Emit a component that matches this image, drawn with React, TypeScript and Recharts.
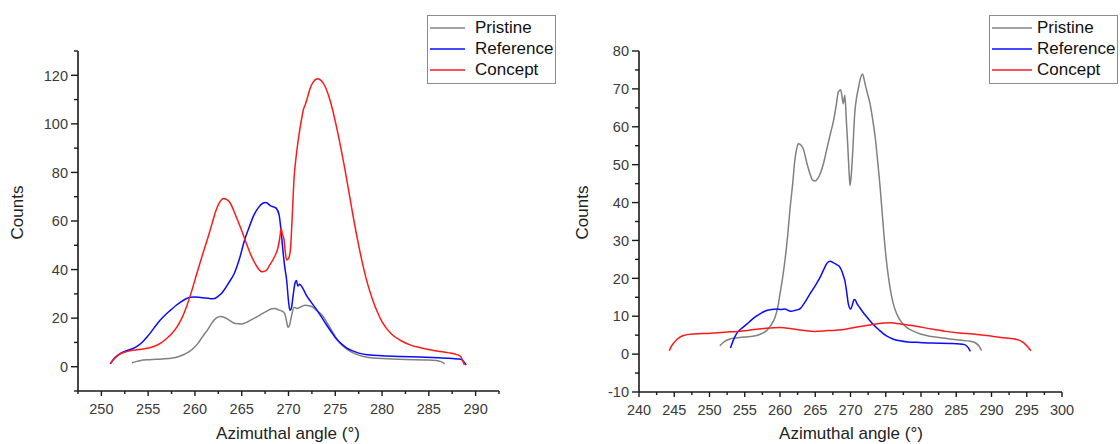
import { LineChart, Line, XAxis, YAxis, Legend } from "recharts";

const FONT = '"Liberation Sans", Arial, Helvetica, sans-serif';

const COLORS = {
  pristine: "#808080",
  reference: "#0a0aff",
  concept: "#ff1a1a",
};

const SERIES_ORDER = ["Pristine", "Reference", "Concept"];

// left panel profiles: [azimuthal angle, counts]
const leftPristine: [number, number][] = [
  [253.27, 1.6], [253.7, 2.1], [254.1, 2.5], [255.2, 2.9], [256.5, 3.2], [257.6, 3.6],
  [258.3, 4.2], [258.7, 4.8], [259.2, 5.8], [259.7, 7.1], [260.3, 9.5], [260.8, 12.3],
  [261.4, 15.5], [261.9, 18.5], [262.3, 20.1], [262.7, 20.7], [263.1, 20.4], [263.7, 19.1],
  [264.3, 17.8], [265.0, 17.6], [265.6, 18.4], [266.1, 19.5], [266.7, 20.7], [267.2, 21.9],
  [267.7, 22.9], [268.2, 23.9], [268.6, 24.0], [268.9, 23.4], [269.3, 22.9], [269.6, 21.9],
  [269.8, 18.5], [269.95, 16.2], [270.1, 17], [270.3, 20.5], [270.6, 24.5], [270.9, 24.0],
  [271.1, 24.2], [271.5, 25], [271.8, 25.3], [272.2, 25.1], [272.5, 24.7], [273.0, 23.2],
  [273.6, 21.2], [274.1, 18.3], [274.6, 15], [275.0, 12.5], [275.4, 10.3], [275.9, 8.2],
  [276.5, 6.5], [277.2, 5.2], [278.0, 4.2], [279.0, 3.6], [280.5, 3.3], [282.5, 3.0],
  [284.5, 2.8], [285.8, 2.6], [286.3, 2.1], [286.7, 1.2],
];

const leftReference: [number, number][] = [
  [250.95, 1.2], [251.4, 3.6], [251.85, 5.0], [252.7, 6.6], [253.3, 7.4], [253.8, 8.4],
  [254.4, 10.2], [254.9, 12.3], [255.6, 15.8], [256.3, 19.2], [256.9, 21.6], [257.4, 23.3],
  [258.0, 25.3], [258.5, 26.7], [259.0, 27.9], [259.5, 28.6], [260.0, 28.7], [260.6, 28.5],
  [261.2, 28.3], [261.7, 28.0], [262.1, 28.1], [262.4, 28.8], [262.8, 30.0], [263.1, 31.5],
  [263.6, 34.5], [264.2, 38.4], [264.8, 45], [265.3, 52.1], [265.8, 57.5], [266.3, 62.4],
  [266.8, 65.6], [267.2, 67.2], [267.6, 67.6], [268.1, 66.2], [268.4, 65.8], [268.7, 65.2],
  [269.0, 62.4], [269.2, 56.2], [269.4, 48], [269.6, 41], [269.8, 35.7], [270.0, 27],
  [270.15, 23.2], [270.3, 24], [270.5, 29.5], [270.7, 34.5], [270.85, 35.5], [271.0, 33.2],
  [271.2, 34], [271.5, 32.5], [271.9, 29.5], [272.4, 26.7], [273.0, 23.5], [273.5, 20.6],
  [274.0, 17.6], [274.6, 14.2], [275.1, 11.5], [275.6, 9.6], [276.2, 7.8], [276.8, 6.6],
  [277.5, 5.6], [278.5, 4.9], [280.0, 4.5], [282.0, 4.2], [284.0, 4.0], [286.0, 3.7],
  [287.5, 3.4], [288.5, 3.0], [288.8, 1.8], [289.0, 0.7],
];

const leftConcept: [number, number][] = [
  [250.95, 1.2], [251.4, 3.4], [251.85, 4.9], [252.7, 6.2], [253.6, 6.9], [254.5, 7.3],
  [255.6, 8.3], [256.3, 9.6], [257.0, 11.7], [257.6, 14], [258.1, 16.5], [258.6, 20],
  [259.1, 24.7], [259.6, 30.5], [260.2, 38.4], [260.8, 46], [261.3, 52.1], [261.8, 58.5],
  [262.2, 63.8], [262.6, 67.5], [263.06, 69.3], [263.5, 68.6], [263.8, 67.2], [264.3, 62.8],
  [264.84, 57.6], [265.4, 51.8], [265.9, 46.7], [266.5, 42], [267.16, 39.1], [267.6, 39.6],
  [268.0, 41.9], [268.5, 45.3], [268.9, 49.4], [269.1, 54], [269.2, 57], [269.35, 54.5],
  [269.5, 52.8], [269.65, 47.5], [269.8, 43.9], [270.0, 44.5], [270.2, 48], [270.4, 62],
  [270.6, 78], [270.8, 86], [271.1, 95], [271.4, 102], [271.6, 106], [271.8, 108],
  [272.0, 110.5], [272.3, 114.5], [272.6, 117], [273.1, 118.6], [273.5, 117.8], [273.9, 115.5],
  [274.3, 111.5], [274.7, 106], [275.0, 101], [275.5, 92], [276.0, 82], [276.5, 71],
  [277.0, 60], [277.5, 50], [278.0, 41], [278.5, 33.5], [279.0, 27.5], [279.5, 22.5],
  [280.0, 18.5], [281.0, 13.5], [282.0, 10.8], [283.0, 9.0], [284.0, 7.9], [285.0, 7.1],
  [286.0, 6.4], [287.0, 5.8], [288.0, 5.0], [288.4, 4.2], [288.6, 2.6], [288.8, 0.8],
];

// right panel profiles
const rightPristine: [number, number][] = [
  [251.46, 2.2], [251.9, 3.0], [252.9, 4.0], [254.3, 4.4], [255.5, 4.6], [256.7, 4.9],
  [257.5, 5.5], [258.1, 6.2], [258.7, 7.6], [259.3, 9.7], [259.7, 12.5], [260.0, 15.9],
  [260.4, 20.5], [260.7, 24.7], [261.1, 31.5], [261.4, 37.9], [261.8, 45], [262.1, 51.1],
  [262.4, 54.5], [262.6, 55.5], [262.95, 55.2], [263.3, 54.2], [263.8, 50.5], [264.25, 47.6],
  [264.6, 46], [264.96, 45.7], [265.3, 46.2], [265.7, 47.6], [266.2, 50.5], [266.6, 53.8],
  [267.1, 57.8], [267.6, 61.7], [268.0, 66], [268.27, 69.2], [268.6, 69.8], [268.8, 68],
  [268.97, 66.1], [269.2, 68.3], [269.4, 62], [269.6, 55.5], [269.8, 48], [269.93, 44.5],
  [270.1, 47], [270.3, 52.9], [270.6, 63.5], [270.88, 67.9], [271.1, 70], [271.35, 72.3],
  [271.7, 73.9], [272.06, 71.4], [272.4, 68.8], [272.77, 66.1], [273.1, 62.5], [273.5, 57.3],
  [273.85, 51], [274.2, 44.1], [274.55, 36], [274.9, 28.2], [275.25, 22.2], [275.6, 17.6],
  [276.0, 13.8], [276.56, 10.6], [277.2, 8.5], [278.0, 7.0], [279.0, 6.0], [279.9, 5.3],
  [281.0, 4.8], [282.5, 4.4], [284.1, 4.0], [285.5, 3.7], [287.0, 3.4], [287.7, 3.0],
  [288.2, 2.2], [288.6, 0.9],
];

const rightReference: [number, number][] = [
  [252.98, 1.6], [253.3, 3.3], [253.8, 5.3], [254.5, 6.7], [255.3, 7.9], [256.0, 9.1],
  [256.7, 10.1], [257.4, 10.9], [258.1, 11.5], [258.8, 11.8], [259.5, 11.9], [260.1, 11.8],
  [260.7, 11.9], [261.2, 11.5], [261.6, 11.3], [262.2, 11.6], [262.8, 11.9], [263.5, 13.6],
  [264.25, 15.9], [265.0, 18.1], [265.7, 20.3], [266.2, 22.3], [266.6, 23.8], [267.1, 24.5],
  [267.6, 24.1], [268.04, 23.6], [268.4, 23.2], [268.75, 22], [269.0, 20.6], [269.2, 19.4],
  [269.45, 16.5], [269.7, 13.2], [270.03, 11.9], [270.3, 13.2], [270.5, 14.4], [270.7, 14.2],
  [270.9, 13.4], [271.3, 12.3], [271.8, 11.0], [272.5, 9.4], [273.2, 7.9], [274.1, 6.3],
  [275.1, 4.8], [276.0, 4.0], [277.0, 3.5], [278.2, 3.2], [279.4, 3.1], [281.5, 2.9],
  [284.1, 2.8], [285.5, 2.7], [286.2, 2.5], [286.7, 1.7], [287.0, 0.7],
];

const rightConcept: [number, number][] = [
  [244.3, 0.9], [244.6, 2.1], [245.0, 3.1], [245.6, 4.2], [246.3, 4.9], [247.7, 5.3],
  [250.2, 5.5], [252.1, 5.8], [254.1, 6.0], [256.05, 6.4], [258.0, 6.8], [260.0, 7.0],
  [261.9, 6.6], [263.5, 6.2], [264.9, 6.0], [266.8, 6.2], [268.8, 6.4], [270.7, 7.1],
  [272.7, 7.7], [274.7, 8.2], [275.6, 8.3], [277.6, 7.8], [279.5, 7.3], [281.5, 6.6],
  [283.5, 6.0], [285.4, 5.6], [287.4, 5.3], [289.3, 4.9], [291.3, 4.4], [293.3, 4.0],
  [294.5, 3.1], [295.2, 1.8], [295.6, 0.9],
];

// tick positions (labelled ones are picked by the tick renderers)
const leftXTicks = [
  247.5, 250, 252.5, 255, 257.5, 260, 262.5, 265, 267.5, 270,
  272.5, 275, 277.5, 280, 282.5, 285, 287.5, 290, 292.5,
];
const leftYTicks = [-10, 0, 10, 20, 30, 40, 50, 60, 70, 80, 90, 100, 110, 120, 130];
const rightXTicks = [
  240, 242.5, 245, 247.5, 250, 252.5, 255, 257.5, 260, 262.5, 265, 267.5, 270,
  272.5, 275, 277.5, 280, 282.5, 285, 287.5, 290, 292.5, 295, 297.5, 300,
];
const rightYTicks = [-10, -5, 0, 5, 10, 15, 20, 25, 30, 35, 40, 45, 50, 55, 60, 65, 70, 75, 80];

const toPoints = (rows: [number, number][]) => rows.map(([x, y]) => ({ x, y }));

const AXIS = "#1a1a1a";
const LABEL = "#3a3a3a";

const makeXTick = (isMajor: (v: number) => boolean) => (props: any) => {
  const { x, y, payload } = props;
  const major = isMajor(payload.value);
  return (
    <g>
      <line x1={x} x2={x} y1={y} y2={y + (major ? 5 : 3)} stroke={AXIS} strokeWidth={1.4} />
      {major && (
        <text x={x} y={y + 23} textAnchor="middle" fontSize={14.5} fill={LABEL} fontFamily={FONT}>
          {payload.value}
        </text>
      )}
    </g>
  );
};

const makeYTick = (isMajor: (v: number) => boolean) => (props: any) => {
  const { x, y, payload } = props;
  const major = isMajor(payload.value);
  return (
    <g>
      <line x1={x} x2={x - (major ? 7 : 4)} y1={y} y2={y} stroke={AXIS} strokeWidth={1.4} />
      {major && (
        <text x={x - 10} y={y} dy="0.36em" textAnchor="end" fontSize={14.5} fill={LABEL} fontFamily={FONT}>
          {payload.value}
        </text>
      )}
    </g>
  );
};

const LegendBox = ({ payload, lineLen, gap }: any) => {
  const items = [...(payload ?? [])].sort(
    (a: any, b: any) => SERIES_ORDER.indexOf(a.value) - SERIES_ORDER.indexOf(b.value),
  );
  return (
    <div
      style={{
        boxSizing: "border-box",
        width: 129,
        height: 69,
        border: "1px solid #8c8c8c",
        background: "#fff",
        padding: "1px 0 0 2px",
        fontFamily: FONT,
        fontSize: 17,
        color: "#111",
      }}
    >
      {items.map((p: any) => (
        <div key={p.value} style={{ display: "flex", alignItems: "center", height: 21 }}>
          <svg width={lineLen} height={4} style={{ display: "block" }}>
            <line x1={0} x2={lineLen} y1={2} y2={2} stroke={p.color} strokeWidth={1.6} />
          </svg>
          <span style={{ marginLeft: gap, lineHeight: "21px" }}>{p.value}</span>
        </div>
      ))}
    </div>
  );
};

interface PanelProps {
  pristine: [number, number][];
  reference: [number, number][];
  concept: [number, number][];
  xDomain: [number, number];
  yDomain: [number, number];
  xTicks: number[];
  yTicks: number[];
  yMajor: (v: number) => boolean;
  yAxisWidth: number;
  marginRight: number;
  xAxisHeight: number;
  legendLeft: number;
  legendLine: number;
  legendGap: number;
  yTitleX: number;
  xTitleX: number;
}

function Panel(p: PanelProps) {
  const lineProps = {
    type: "monotone" as const,
    dataKey: "y",
    dot: false,
    activeDot: false,
    strokeWidth: 1.5,
    isAnimationActive: false,
  };
  return (
    <LineChart
      width={560}
      height={444}
      margin={{ top: 51, right: p.marginRight, bottom: 0, left: 0 }}
    >
      <XAxis
        dataKey="x"
        type="number"
        domain={p.xDomain}
        allowDataOverflow
        ticks={p.xTicks}
        interval={0}
        tickSize={0}
        tickMargin={0}
        tickLine={false}
        height={p.xAxisHeight}
        axisLine={{ stroke: AXIS, strokeWidth: 1.6 }}
        tick={makeXTick((v) => v % 5 === 0)}
      />
      <YAxis
        type="number"
        domain={p.yDomain}
        allowDataOverflow
        ticks={p.yTicks}
        interval={0}
        tickSize={0}
        tickMargin={0}
        tickLine={false}
        width={p.yAxisWidth}
        axisLine={{ stroke: AXIS, strokeWidth: 1.6 }}
        tick={makeYTick(p.yMajor)}
      />
      <Line {...lineProps} name="Pristine" data={toPoints(p.pristine)} stroke={COLORS.pristine} />
      <Line {...lineProps} name="Reference" data={toPoints(p.reference)} stroke={COLORS.reference} />
      <Line {...lineProps} name="Concept" data={toPoints(p.concept)} stroke={COLORS.concept} />
      <Legend
        layout="vertical"
        align="center"
        verticalAlign="middle"
        wrapperStyle={{ left: p.legendLeft, top: 15, width: 129 }}
        content={(props: any) => <LegendBox {...props} lineLen={p.legendLine} gap={p.legendGap} />}
      />
      <text
        x={p.yTitleX}
        y={212.5}
        transform={`rotate(-90 ${p.yTitleX} 212.5)`}
        textAnchor="middle"
        dominantBaseline="central"
        fontSize={17}
        fill="#222"
        fontFamily={FONT}
      >
        Counts
      </text>
      <text x={p.xTitleX} y={439} textAnchor="middle" fontSize={17} fill="#222" fontFamily={FONT}>
        Azimuthal angle (°)
      </text>
    </LineChart>
  );
}

export default function App() {
  return (
    <div
      style={{
        position: "absolute",
        left: 0,
        top: 0,
        width: 1120,
        height: 444,
        display: "flex",
        background: "#fff",
        overflow: "hidden",
      }}
    >
      <Panel
        pristine={leftPristine}
        reference={leftReference}
        concept={leftConcept}
        xDomain={[247.5, 292.5]}
        yDomain={[-10, 130]}
        xTicks={leftXTicks}
        yTicks={leftYTicks}
        yMajor={(v) => v % 20 === 0}
        yAxisWidth={78}
        marginRight={61}
        xAxisHeight={53}
        legendLeft={427}
        legendLine={35}
        legendGap={10}
        yTitleX={17}
        xTitleX={288}
      />
      <Panel
        pristine={rightPristine}
        reference={rightReference}
        concept={rightConcept}
        xDomain={[240, 300]}
        yDomain={[-10, 80]}
        xTicks={rightXTicks}
        yTicks={rightYTicks}
        yMajor={(v) => v % 10 === 0}
        yAxisWidth={79}
        marginRight={58}
        xAxisHeight={52}
        legendLeft={429}
        legendLine={40}
        legendGap={5}
        yTitleX={22}
        xTitleX={291}
      />
    </div>
  );
}
